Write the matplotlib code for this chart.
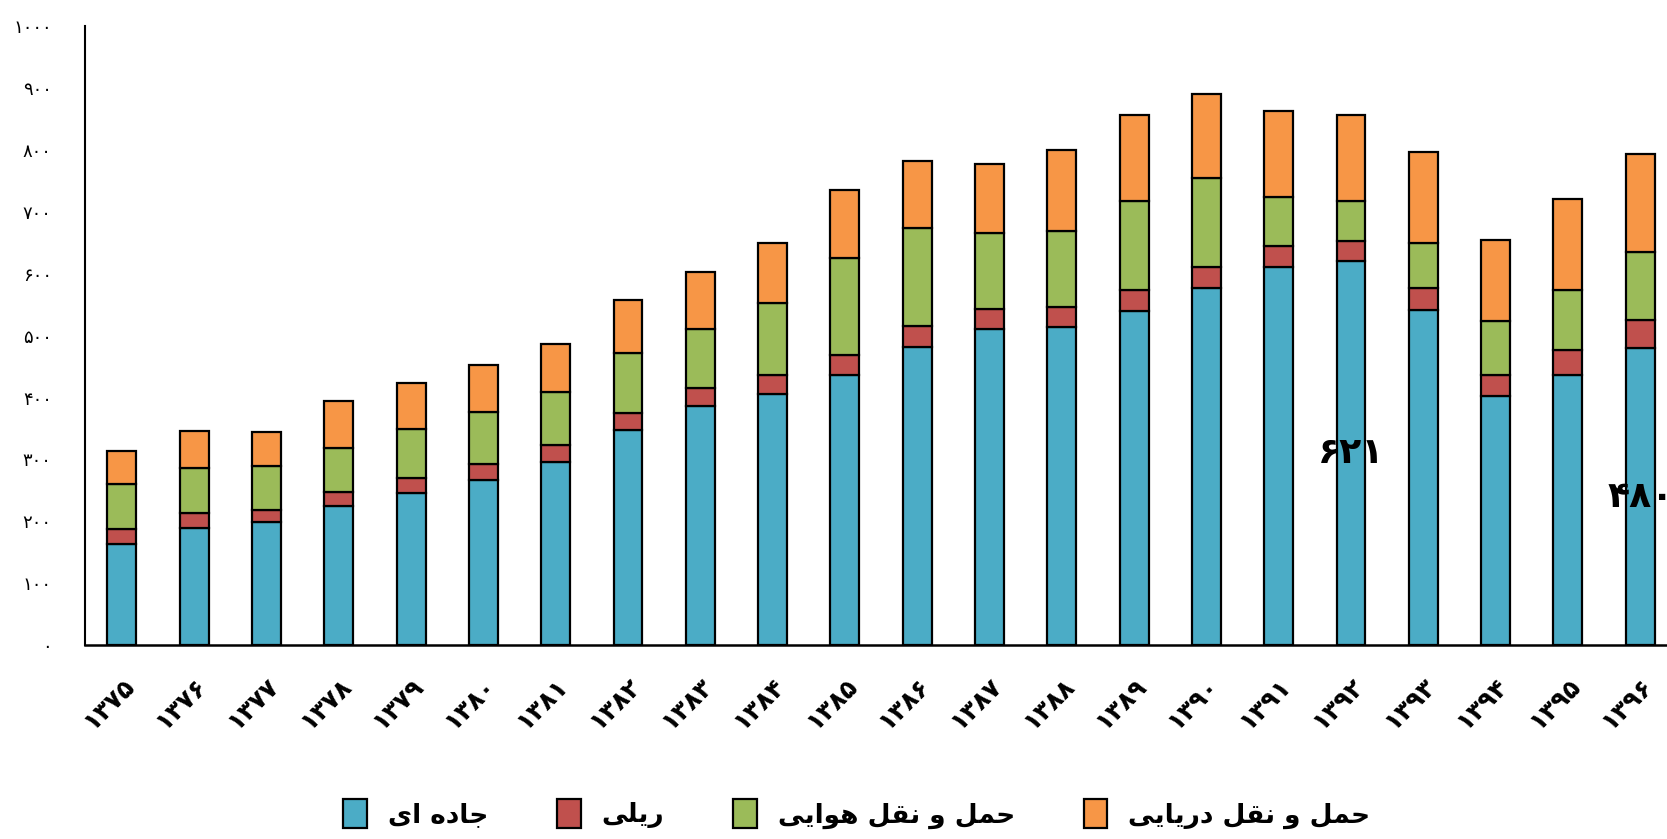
import matplotlib
matplotlib.use("Agg")
from matplotlib import pyplot as plt
import numpy as np

years = ["1375", "1376", "1377", "1378", "1379", "1380", "1381", "1382", "1383", "1384", "1385",
         "1386", "1387", "1388", "1389", "1390", "1391", "1392", "1393", "1394", "1395", "1396"]
road = [164, 190, 199, 224, 246, 267, 296, 348, 387, 406, 436, 482, 511, 514, 540, 577, 610, 621, 541, 402, 436, 480]
rail = [24, 24, 20, 24, 24, 25, 28, 27, 29, 30, 33, 34, 32, 32, 34, 34, 34, 31, 36, 34, 41, 46]
air = [72, 72, 70, 71, 79, 85, 85, 97, 95, 117, 156, 158, 123, 123, 144, 144, 80, 66, 72, 88, 97, 109]
sea = [53, 60, 55, 75, 74, 75, 77, 86, 92, 97, 110, 108, 111, 131, 139, 135, 139, 138, 147, 131, 147, 158]
names = ["جاده ای", "ریلی", "حمل و نقل هوایی", "حمل و نقل دریایی"]
colors = ["#4BACC6", "#C0504D", "#9BBB59", "#F79646"]
labelled = [17, 21]   # bars whose road value is written on them

FA_DIGITS = str.maketrans("0123456789", "۰۱۲۳۴۵۶۷۸۹")

# arabic presentation forms: isolated, final, initial, medial
FORMS = {
    "ا": ("\uFE8D", "\uFE8E", None, None),
    "د": ("\uFEA9", "\uFEAA", None, None),
    "ر": ("\uFEAD", "\uFEAE", None, None),
    "و": ("\uFEED", "\uFEEE", None, None),
    "ج": ("\uFE9D", "\uFE9E", "\uFE9F", "\uFEA0"),
    "ه": ("\uFEE9", "\uFEEA", "\uFEEB", "\uFEEC"),
    "ی": ("\uFBFC", "\uFBFD", "\uFBFE", "\uFBFF"),
    "ل": ("\uFEDD", "\uFEDE", "\uFEDF", "\uFEE0"),
    "ح": ("\uFEA1", "\uFEA2", "\uFEA3", "\uFEA4"),
    "م": ("\uFEE1", "\uFEE2", "\uFEE3", "\uFEE4"),
    "ن": ("\uFEE5", "\uFEE6", "\uFEE7", "\uFEE8"),
    "ق": ("\uFED5", "\uFED6", "\uFED7", "\uFED8"),
}


def dual(c):
    return c in FORMS and FORMS[c][2] is not None


def shape(text):
    out = []
    for i, c in enumerate(text):
        if c not in FORMS:
            out.append(c)
            continue
        prev = text[i - 1] if i > 0 else ""
        nxt = text[i + 1] if i + 1 < len(text) else ""
        jp = dual(prev)
        jn = dual(c) and nxt in FORMS
        f = FORMS[c]
        if jp and jn:
            out.append(f[3])
        elif jp:
            out.append(f[1])
        elif jn:
            out.append(f[2])
        else:
            out.append(f[0])
    return "".join(out)[::-1]


fig = plt.figure(figsize=(16.67, 8.39), dpi=100)
ax = fig.add_axes([0.051, 0.231, 0.949, 0.738])

x = np.arange(len(years))
bottom = np.zeros(len(years))
handles = []
for vals, col in zip([road, rail, air, sea], colors):
    b = ax.bar(x, vals, 0.4, bottom=bottom, color=col, edgecolor="black", linewidth=1.6)
    handles.append(b)
    bottom += np.array(vals)

for i in labelled:
    ax.text(x[i], road[i] / 2, str(road[i]).translate(FA_DIGITS), ha="center", va="center",
            fontsize=26, fontweight="bold", family="DejaVu Sans")

ax.set_ylim(0, 1000)
ax.set_xlim(-0.51, 21.37)
ax.set_yticks(range(0, 1001, 100))
ax.set_yticklabels([str(v).translate(FA_DIGITS) for v in range(0, 1001, 100)], fontsize=13)
ax.set_xticks(x)
ax.set_xticklabels([y.translate(FA_DIGITS) for y in years], rotation=45, ha="right",
                   rotation_mode="anchor", fontsize=18, fontweight="bold")
ax.tick_params(axis="y", length=0, pad=24)
ax.tick_params(axis="x", length=0, pad=20)
ax.spines["top"].set_visible(False)
ax.spines["right"].set_visible(False)
ax.spines["left"].set_linewidth(1.5)
ax.spines["bottom"].set_linewidth(1.8)

fig.legend(handles, [shape(n) for n in names], loc="center", bbox_to_anchor=(0.514, 0.03),
           ncol=4, frameon=False, handlelength=0.9, handleheight=1.3, columnspacing=2.6,
           prop={"size": 19, "weight": "bold"})

fig.savefig("out.png", dpi=100)
